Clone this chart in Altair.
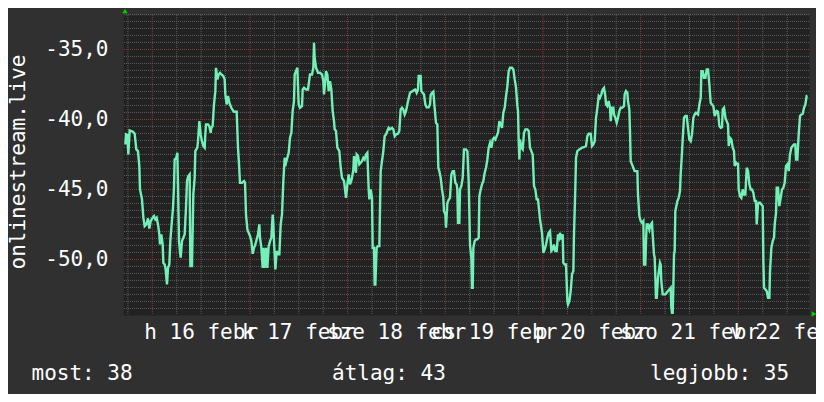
import json
import altair as alt
import pandas as pd
import numpy as np

# ---------------- data (hours since 2015-02-16 00:00, signal level) ----------------
H1 = [-6.63, -6.46, -6.14, -5.89, -5.56, -4.74, -4.33, -3.93, -3.52, -3.19, -3.02, -2.53,
      -2.20, -1.88, -1.47, -1.06, -0.73, -0.40, 0.09, 0.42, 0.74, 1.07, 1.40, 1.73,
      1.89, 2.22, 2.55, 2.71, 3.04, 3.28, 3.61, 3.86, 4.18, 4.43, 4.68, 5.09,
      5.33, 5.49, 5.90, 6.15, 6.31, 6.56, 6.97, 7.30, 7.62, 7.95, 8.28, 8.53,
      8.85, 9.18, 9.35, 9.75, 10.08, 10.41, 10.57, 11.06, 11.23, 11.56, 11.88, 12.21,
      12.54, 12.87, 13.03, 13.19, 13.69, 14.01, 14.34, 14.51, 14.83, 15.16, 15.49, 15.65,
      15.98, 16.31, 16.63, 16.96, 17.45, 17.78, 17.95, 18.27, 18.60, 18.93, 19.42, 19.91]
V1 = [-41.79, -41.07, -41.12, -42.50, -40.79, -40.88, -41.02, -42.14, -42.26, -43.33, -45.00, -45.71,
      -47.02, -47.62, -47.50, -47.07, -47.79, -47.26, -47.02, -46.90, -47.14, -47.02, -47.50, -48.21,
      -48.93, -48.21, -48.93, -50.24, -50.36, -50.71, -51.79, -50.60, -50.36, -48.69, -47.74, -46.31,
      -44.88, -42.86, -42.74, -42.38, -44.52, -48.69, -49.88, -48.69, -48.45, -48.21, -46.31, -44.40,
      -44.05, -43.93, -50.48, -50.48, -45.36, -44.17, -42.26, -42.02, -41.55, -40.12, -41.07, -41.55,
      -41.90, -42.02, -41.07, -40.36, -40.36, -40.48, -40.95, -40.60, -40.48, -38.93, -37.98, -36.31,
      -37.14, -36.79, -36.67, -36.79, -36.90, -37.14, -38.21, -38.93, -38.33, -38.81, -39.17, -39.40]

H2 = [20.08, 20.73, 21.06, 21.31, 21.55, 22.05, 22.54, 22.78, 23.03, 23.36, 23.68, 24.01,
      24.34, 24.67, 25.00, 25.32, 25.65, 25.98, 26.30, 26.47, 26.80, 27.12, 27.29, 27.61,
      27.94, 28.27, 28.60, 28.93, 29.25, 29.58, 29.74, 29.91, 30.24, 30.56, 30.89, 31.22,
      31.55, 31.87, 32.20, 32.53, 32.86, 33.18, 33.51, 33.84, 34.17, 34.49, 34.82, 34.99,
      35.31, 35.64, 35.97, 36.30, 36.79, 36.95, 37.28, 37.77, 38.26, 38.75, 39.24, 39.57,
      39.74, 39.90, 40.23, 40.72, 41.21, 41.70, 42.03, 42.19, 42.52, 42.68, 43.01, 43.34,
      43.67, 43.99, 44.32, 44.65, 44.81, 45.14, 45.47, 45.96, 46.29, 46.62, 47.11, 47.60,
      47.93, 48.25]
V2 = [-39.45, -39.45, -42.02, -43.21, -44.52, -44.52, -44.40, -44.52, -46.79, -47.86, -48.10, -48.33,
      -48.69, -49.60, -49.17, -48.93, -48.57, -48.21, -47.50, -48.45, -49.17, -50.60, -49.17, -50.60,
      -49.17, -50.60, -49.05, -48.69, -48.45, -46.79, -47.50, -48.69, -50.71, -49.40, -49.64, -49.64,
      -47.50, -46.79, -44.40, -42.74, -43.10, -42.74, -42.38, -41.31, -40.95, -39.40, -38.69, -36.79,
      -36.55, -36.31, -38.93, -39.17, -39.05, -37.86, -37.74, -37.86, -37.86, -36.79, -36.79, -36.31,
      -34.52, -35.60, -36.31, -36.67, -36.67, -36.79, -37.26, -38.21, -37.14, -36.55, -36.79, -37.98,
      -37.26, -37.86, -39.40, -40.12, -40.71, -40.83, -42.02, -42.26, -43.45, -44.17, -44.40, -45.60,
      -44.64, -43.93]

H3 = [48.58, 48.99, 49.40, 49.56, 49.89, 50.05, 50.22, 50.55, 50.87, 51.20, 51.53, 51.86,
      52.18, 52.51, 52.84, 53.17, 53.33, 53.66, 53.99, 54.15, 54.48, 54.64, 54.81, 55.13,
      55.46, 55.79, 56.12, 56.44, 56.77, 57.10, 57.43, 57.75, 58.08, 58.41, 58.90, 59.23,
      59.56, 59.88, 60.37, 60.70, 61.03, 61.36, 61.68, 62.01, 62.34, 62.67, 62.99, 63.32,
      63.65, 63.98, 64.30, 64.63, 64.96, 65.29, 65.45, 65.94, 66.11, 66.43, 66.76, 67.09,
      67.42, 67.91, 68.24, 68.40, 68.73, 69.06, 69.38, 69.71, 70.04, 70.29, 70.53, 70.86,
      71.19, 71.51, 71.68, 72.01, 72.17, 72.50, 72.82, 73.15, 73.48, 73.81, 74.13, 74.46,
      74.79, 74.95, 75.12, 75.45, 75.61, 75.94, 76.27, 76.59, 76.92]
V3 = [-44.64, -44.29, -43.60, -42.62, -43.45, -43.81, -42.50, -42.62, -43.21, -43.10, -42.98, -42.74,
      -42.86, -42.50, -42.38, -45.00, -45.71, -45.00, -45.60, -49.17, -49.17, -51.79, -51.79, -49.17,
      -49.05, -49.05, -43.69, -42.98, -42.26, -41.19, -41.07, -40.83, -40.60, -40.71, -40.60, -40.71,
      -41.19, -41.07, -41.02, -40.83, -39.29, -39.17, -39.29, -39.64, -39.40, -38.93, -38.50, -38.10,
      -38.02, -37.98, -37.90, -37.86, -38.10, -37.86, -36.90, -36.90, -37.98, -38.10, -38.21, -38.93,
      -39.14, -39.14, -38.93, -38.26, -38.10, -38.02, -39.17, -40.24, -40.36, -43.45, -43.69, -44.17,
      -45.00, -45.60, -46.55, -46.79, -47.74, -45.98, -45.74, -45.60, -43.93, -43.69, -43.69, -44.52,
      -44.64, -45.00, -47.38, -47.38, -45.00, -44.76, -44.17, -42.14, -42.14]

H4 = [77.09, 77.42, 77.74, 78.07, 78.40, 78.56, 78.73, 78.89, 79.22, 79.55, 79.87, 80.20,
      80.37, 80.69, 81.02, 81.35, 81.68, 82.00, 82.33, 82.66, 82.99, 83.31, 83.64, 83.97,
      84.30, 84.62, 84.95, 85.28, 85.61, 85.93, 86.26, 86.59, 86.92, 87.25, 87.57, 87.90,
      88.39, 88.72, 89.05, 89.38, 89.70, 89.87, 90.03, 90.20, 90.36, 90.69, 91.01, 91.34,
      91.67, 92.16, 92.49, 92.81, 93.14, 93.47, 93.80, 94.12, 94.45, 94.78, 95.27, 95.76,
      96.09, 96.42, 96.75, 97.07, 97.40, 97.73, 98.06, 98.38, 98.71, 99.04, 99.37, 99.69,
      100.02, 100.19, 100.51, 100.84, 101.00, 101.33, 101.66, 101.99, 102.15, 102.48, 102.81, 103.13,
      103.46, 103.62, 103.95, 104.12, 104.44, 104.94]
V4 = [-42.14, -42.26, -44.40, -48.93, -49.88, -52.02, -52.02, -49.17, -48.69, -48.57, -48.57, -48.45,
      -45.48, -45.00, -44.64, -44.40, -43.81, -43.45, -42.86, -42.02, -41.67, -42.02, -41.43, -41.31,
      -41.43, -41.19, -40.95, -40.12, -40.36, -40.60, -39.52, -39.17, -38.33, -37.62, -36.55, -36.31,
      -36.31, -36.43, -37.14, -37.74, -39.05, -39.40, -41.55, -42.86, -41.43, -42.02, -42.14, -40.95,
      -40.71, -40.71, -40.83, -42.02, -42.26, -42.50, -44.76, -45.00, -45.71, -45.71, -47.14, -48.10,
      -49.52, -49.29, -48.93, -48.45, -48.10, -47.98, -49.40, -49.29, -48.93, -49.40, -49.40, -48.21,
      -48.45, -48.10, -48.57, -48.21, -50.24, -50.36, -50.36, -52.98, -53.21, -52.98, -52.26, -51.07,
      -50.83, -48.21, -44.88, -42.74, -42.26, -42.14]

H5 = [105.59, 106.08, 106.57, 106.90, 107.23, 107.72, 108.05, 108.38, 108.70, 109.03, 109.36, 109.69,
      110.01, 110.34, 110.67, 111.00, 111.32, 111.49, 111.81, 112.14, 112.47, 112.63, 112.80, 112.96,
      113.29, 113.45, 113.78, 114.11, 114.44, 114.76, 115.09, 115.42, 115.91, 116.07, 116.40, 116.73,
      116.89, 117.22, 117.38, 117.55, 117.88, 118.20, 118.53, 118.86, 119.19, 119.35, 119.68, 120.01,
      120.33, 120.66, 120.82, 121.15, 121.32, 121.48, 121.81, 122.14, 122.46, 122.79, 122.95, 123.28,
      123.45, 123.77, 123.94, 124.26, 124.59, 124.76, 124.92, 125.08, 125.41, 125.74, 126.07, 126.39,
      126.72, 127.05, 127.38, 127.54, 127.70, 127.87, 128.03, 128.20, 128.36, 128.52, 128.69, 129.02,
      129.34, 129.67, 129.83, 130.16, 130.33, 130.65, 130.98, 131.31, 131.64, 131.96, 132.29, 132.62,
      132.95, 133.27, 133.60]
V5 = [-42.02, -41.98, -41.90, -41.19, -41.02, -41.02, -41.90, -41.79, -41.55, -39.88, -39.17, -38.33,
      -38.45, -38.21, -37.86, -37.74, -38.33, -38.93, -39.05, -38.69, -39.17, -40.12, -39.64, -39.17,
      -39.17, -39.64, -39.88, -40.24, -39.88, -39.40, -39.17, -39.17, -39.05, -38.21, -37.98, -38.10,
      -38.69, -39.29, -40.83, -42.98, -43.21, -43.45, -43.69, -43.69, -43.69, -45.36, -46.90, -47.26,
      -47.38, -47.26, -50.36, -50.36, -48.69, -47.50, -47.50, -47.86, -47.50, -47.38, -48.21, -49.64,
      -49.88, -52.74, -52.74, -51.31, -50.60, -50.24, -50.36, -51.55, -52.50, -52.50, -52.50, -52.38,
      -52.26, -52.14, -52.02, -53.45, -53.81, -53.81, -52.02, -49.64, -49.40, -46.55, -46.31, -45.83,
      -45.60, -45.12, -43.93, -42.38, -41.43, -39.88, -39.76, -39.76, -40.60, -41.43, -41.55, -41.07,
      -39.88, -39.64, -39.52]

H6 = [134.10, 134.43, 134.76, 134.92, 135.25, 135.57, 135.90, 136.23, 136.56, 136.88, 137.21, 137.54,
      137.87, 138.20, 138.52, 138.69, 139.01, 139.34, 139.67, 140.00, 140.16, 140.49, 140.82, 141.14,
      141.47, 141.64, 141.96, 142.29, 142.62, 142.94, 143.11, 143.44, 143.76, 143.93, 144.09, 144.42,
      144.75, 145.07, 145.40, 145.73, 146.06, 146.39, 146.71, 147.04, 147.37, 147.70, 148.02, 148.35,
      148.52, 148.84, 149.01, 149.33, 149.66, 149.99, 150.15, 150.32, 150.65, 150.97, 151.30, 151.63,
      151.79, 152.12, 152.45, 152.77, 152.94, 153.27, 153.43, 153.76, 154.08, 154.41, 154.74, 155.07,
      155.39, 155.72, 156.05, 156.38, 156.70, 157.03, 157.36, 157.68, 158.01, 158.18, 158.51, 158.83,
      159.16, 159.49, 159.82, 160.14, 160.47, 160.80, 160.96]
V6 = [-39.64, -38.93, -38.45, -36.55, -36.55, -37.02, -37.02, -36.43, -36.43, -37.50, -38.81, -38.93,
      -39.05, -39.76, -39.52, -39.40, -39.45, -40.48, -40.60, -40.55, -39.29, -39.17, -39.88, -40.12,
      -40.36, -41.90, -41.31, -41.43, -42.02, -42.26, -43.33, -43.10, -43.21, -43.10, -45.00, -45.48,
      -45.60, -45.00, -45.36, -45.36, -43.45, -43.69, -44.64, -45.00, -45.00, -45.24, -45.83, -45.83,
      -47.50, -46.07, -45.95, -45.95, -46.07, -46.19, -50.12, -52.02, -52.14, -52.26, -52.74, -52.74,
      -50.83, -49.17, -48.69, -48.45, -47.50, -46.67, -44.88, -44.88, -46.19, -45.60, -45.00, -44.88,
      -44.52, -43.33, -43.21, -43.69, -42.50, -42.02, -41.90, -41.79, -41.79, -42.86, -42.86, -41.07,
      -39.76, -39.64, -39.60, -39.17, -38.93, -38.33, -38.33]

DAY_LABELS = ["h 16 febr", "k 17 febr", "sze 18 febr", "cs 19 febr",
              "p 20 febr", "szo 21 febr", "v 22 febr"]
LABEL_DAYS = [16, 17, 18, 19, 20, 21, 22]
Y_TICKS = [-50, -45, -40, -35]
Y_TICK_LABELS = ["-50,0", "-45,0", "-40,0", "-35,0"]
LEGEND = ["most: 38", "átlag: 43", "legjobb: 35"]
Y_TITLE = "onlinestream.live"

# ---------------- assemble ----------------
segments = [(H1, V1), (H2, V2), (H3, V3), (H4, V4), (H5, V5), (H6, V6)]
for i, (h, v) in enumerate(segments):
    if len(h) != len(v):
        raise ValueError(f"segment {i + 1}: {len(h)} hours vs {len(v)} values")
hours = [x for h, _ in segments for x in h]
vals = [x for _, v in segments for x in v]

START = pd.Timestamp("2015-02-16 00:00")
df = pd.DataFrame({
    "time": (START + pd.to_timedelta(hours, unit="h")).round("s"),
    "signal": vals,
})

vt = pd.date_range("2015-02-15 18:00", "2015-02-22 12:00", freq="6h")
vgrid = pd.DataFrame({"time": vt, "major": vt.hour == 0})
vminor = vgrid[~vgrid["major"]]
vmajor = vgrid[vgrid["major"]]

levels = np.round(np.arange(-53.5, -32.49, 0.5), 1)
hgrid = pd.DataFrame({"level": levels, "major": (levels % 5) == 0})
hminor = hgrid[~hgrid["major"]]
hmajor = hgrid[hgrid["major"]]

xlab = pd.DataFrame({
    "time": [pd.Timestamp(2015, 2, d, 12) for d in LABEL_DAYS],
    "label": DAY_LABELS,
})
ylab = pd.DataFrame({"level": Y_TICKS, "label": Y_TICK_LABELS})

# ---------------- style ----------------
MONO = "DejaVu Sans Mono"
FS = 21
LINE_COLOR = "#72f0b8"
MINOR_COLOR = "#5c5c5c"
MAJOR_COLOR = "#8c3c3c"
BG = "#303030"
PLOT_BG = "#222222"
TXT = "#ffffff"

X_SCALE = alt.Scale(
    domain=[alt.DateTime(year=2015, month=2, date=15, hours=16, minutes=48),
            alt.DateTime(year=2015, month=2, date=22, hours=17, minutes=22)],
    nice=False,
)
Y_SCALE = alt.Scale(domain=[-53.97, -32.54], nice=False, zero=False)

def X(field="time:T"):
    return alt.X(field, scale=X_SCALE, axis=None)

def Y(field):
    return alt.Y(field, scale=Y_SCALE, axis=None)

grid_style = dict(strokeDash=[1, 1], strokeWidth=1)
v_minor = alt.Chart(vminor).mark_rule(color=MINOR_COLOR, **grid_style).encode(x=X())
v_major = alt.Chart(vmajor).mark_rule(color=MAJOR_COLOR, **grid_style).encode(x=X())
h_minor = alt.Chart(hminor).mark_rule(color=MINOR_COLOR, **grid_style).encode(y=Y("level:Q"))
h_major = alt.Chart(hmajor).mark_rule(color=MAJOR_COLOR, **grid_style).encode(y=Y("level:Q"))

line = alt.Chart(df).mark_line(color=LINE_COLOR, strokeWidth=2.4, clip=True).encode(
    x=X(), y=Y("signal:Q"))

text_style = dict(font=MONO, fontSize=FS, color=TXT)

x_labels = alt.Chart(xlab).mark_text(align="center", baseline="alphabetic", **text_style).encode(
    x=X(), y=alt.value(323.5), text="label:N")
y_labels = alt.Chart(ylab).mark_text(align="right", baseline="middle", dy=1, **text_style).encode(
    x=alt.value(-14.5), y=Y("level:Q"), text="label:N")
y_title = alt.Chart(pd.DataFrame({"label": [Y_TITLE]})).mark_text(
    align="center", baseline="alphabetic", angle=270, **text_style).encode(
    x=alt.value(-98), y=alt.value(147), text="label:N")

one = pd.DataFrame({"k": [0]})
arrow_up = alt.Chart(one).mark_point(shape="triangle-up", filled=True, size=30,
                                     color="#00d000", opacity=1).encode(
    x=alt.value(2), y=alt.value(-4))
arrow_right = alt.Chart(one).mark_point(shape="triangle-right", filled=True, size=30,
                                        color="#00d000", opacity=1).encode(
    x=alt.value(691), y=alt.value(299))

def legend_text(label, xpos):
    return alt.Chart(pd.DataFrame({"label": [label]})).mark_text(
        align="left", baseline="alphabetic", **text_style
    ).encode(text="label:N", x=alt.value(xpos), y=alt.value(365))

leg1 = legend_text(LEGEND[0], -91.5)
leg2 = legend_text(LEGEND[1], 209)
leg3 = legend_text(LEGEND[2], 527)

chart = alt.layer(
    v_minor, h_minor, v_major, h_major, line, x_labels, y_labels, y_title,
    arrow_up, arrow_right, leg1, leg2, leg3
).properties(
    width=686, height=300,
    padding={"left": 115, "top": 7, "right": 7, "bottom": 79},
    autosize=alt.AutoSizeParams(type="none"),
).configure(
    background=BG,
).configure_view(
    fill=PLOT_BG, strokeOpacity=0,
)

chart.save("out.html", embed_options={"renderer": "svg", "actions": False})
